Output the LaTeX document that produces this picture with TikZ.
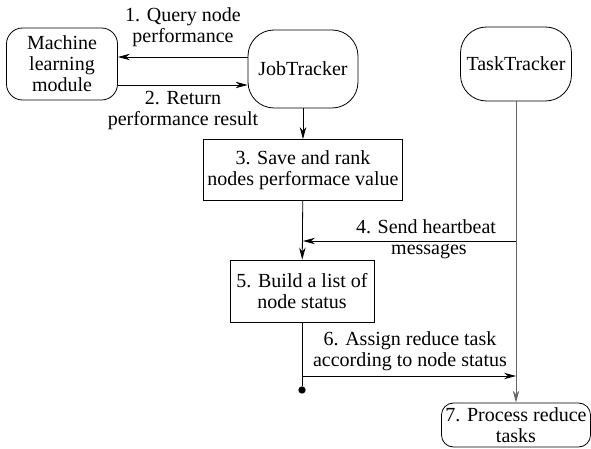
\documentclass[tikz,border=0pt]{standalone}
\usepackage{fontspec}
\setmainfont{Liberation Serif}
\usetikzlibrary{arrows.meta,positioning}
\tikzset{
    -{Stealth[length=6pt,width=3.2pt]},line width=0.6pt,
    rbox/.style ={draw, rounded corners=8pt, align=center, -, inner sep=2pt},
    sbox/.style ={draw, align=center, -, inner sep=2pt},
    lbl/.style = {align=center, inner sep=0pt},
    dot/.style = {circle, fill, inner sep=1.3pt, node contents={}}
}

\begin{document}
\begin{tikzpicture}[x=0.5pt,y=-0.5pt,font=\fontsize{10}{10.5}\selectfont]
  \useasboundingbox (0,0) rectangle (591,449);

  \node[rbox, minimum width=55.5pt, minimum height=36pt] (ml) at (62, 64) {Machine\\learning\\module};

  \node[rbox, rounded corners=13pt, minimum width=55pt, minimum height=39pt] (jt) at (303, 69) {JobTracker};

  \node[rbox, rounded corners=13pt, minimum width=55.5pt, minimum height=37pt] (tt) at (516, 64) {TaskTracker};

  \node[sbox, minimum width=98.5pt, minimum height=30.5pt] (save) at (303, 170) {3. Save and rank\\nodes performace value};

  \node[sbox, minimum width=72pt, minimum height=31pt] (build) at (302, 291) {5. Build a list of\\node status};

  \node[rbox, rounded corners=6pt, minimum width=73pt, minimum height=22pt] (proc) at (516, 425) {7. Process reduce\\tasks};

  \node (end) at (302, 390) [dot];

  % query and return
  \coordinate (q) at (248, 57);
  \coordinate (r) at (118, 85);
  \draw (q) -- (q -| ml.east);
  \draw (r) -- (r -| jt.west);
  \node[lbl] (ql) at (183, 27) {1. Query node\\performance};
  \node[lbl] (rl) at (183, 111) {2. Return\\performance result};

  \draw (jt) -- (save);

  % heartbeat
  \coordinate (hb) at (303, 241);
  \draw[black!60] (tt) -- (proc);
  \draw (tt.south |- hb) -- (hb);
  \draw (save) -- (build);
  \node[lbl] (hbl) at (426, 239) {4. Send heartbeat\\\hspace*{3pt}messages};

  % assign
  \coordinate (as) at (302, 376);
  \draw[-] (build) -- (end);
  \draw (as) -- (as -| tt.south);
  \node[lbl] (asl) at (410, 351) {6. Assign reduce task\\according to node status};
\end{tikzpicture}
\end{document}
